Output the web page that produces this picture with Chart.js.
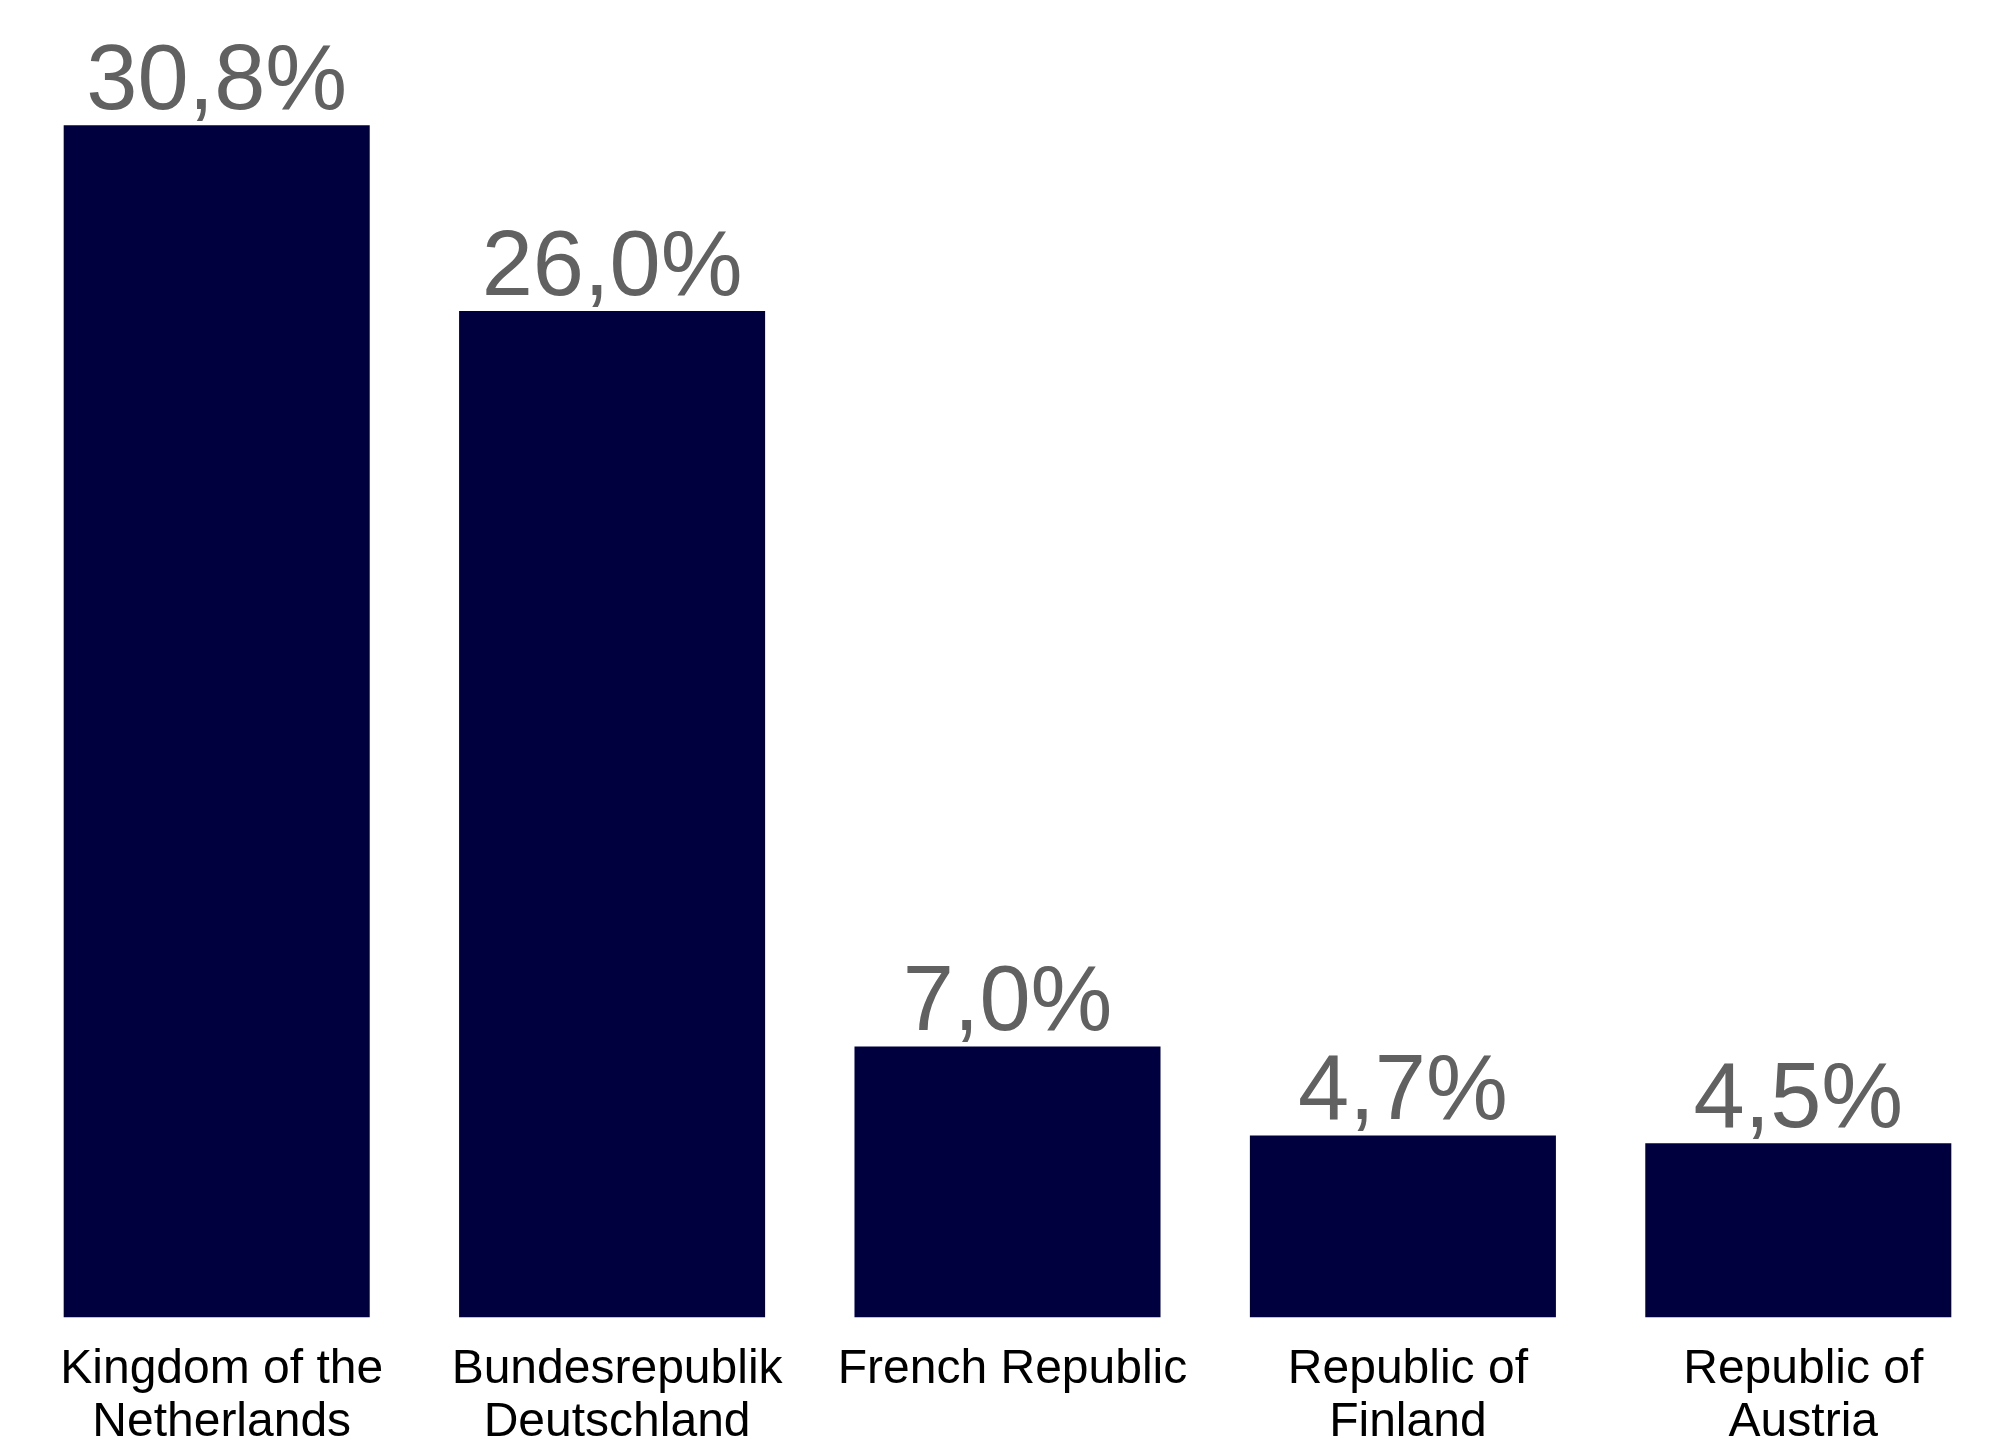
<!DOCTYPE html>
<html>
<head>
<meta charset="utf-8">
<script src="https://cdn.jsdelivr.net/npm/chart.js@4"></script>
<style>
  html, body { margin: 0; padding: 0; background: #fff; }
  #wrap { width: 2009px; height: 1453px; }
</style>
</head>
<body>
<div id="wrap"><canvas id="chart"></canvas></div>
<script>
// Données
const pays = [
    ['Kingdom of the', 'Netherlands'],
    ['Bundesrepublik', 'Deutschland'],
    ['French Republic'],
    ['Republic of', 'Finland'],
    ['Republic of', 'Austria']
];
const parts = [30.8, 26.0, 7.0, 4.7, 4.5];

// Étiquettes de valeur au-dessus des barres (virgule décimale)
const valueLabels = {
    id: 'valueLabels',
    afterDatasetsDraw(chart) {
        const ctx = chart.ctx;
        const meta = chart.getDatasetMeta(0);
        ctx.save();
        ctx.font = '92px "Liberation Sans", Arial, sans-serif';
        ctx.fillStyle = '#616161';
        ctx.textAlign = 'center';
        ctx.textBaseline = 'alphabetic';
        meta.data.forEach((bar, i) => {
            const txt = parts[i].toFixed(1).replace('.', ',') + '%';
            ctx.fillText(txt, bar.x, bar.y - 16);
        });
        ctx.restore();
    }
};

const ctx = document.getElementById('chart').getContext('2d');
new Chart(ctx, {
    type: 'bar',
    data: {
        labels: pays,
        datasets: [{
            data: parts,
            backgroundColor: '#00003f',
            categoryPercentage: 0.774,
            barPercentage: 1
        }]
    },
    options: {
        responsive: true,
        maintainAspectRatio: false,
        animation: false,
        layout: { padding: { top: 40, left: 19, right: 13, bottom: -14 } },
        plugins: {
            legend: { display: false },
            tooltip: { enabled: false }
        },
        scales: {
            x: {
                grid: { display: false },
                border: { display: false },
                ticks: {
                    color: '#000',
                    padding: 18,
                    labelOffset: 5,
                    maxRotation: 0,
                    font: { family: '"Liberation Sans", Arial, sans-serif', size: 48, lineHeight: 1.1 }
                }
            },
            y: {
                display: false,
                min: 0,
                max: 33
            }
        }
    },
    plugins: [valueLabels]
});
</script>
</body>
</html>
